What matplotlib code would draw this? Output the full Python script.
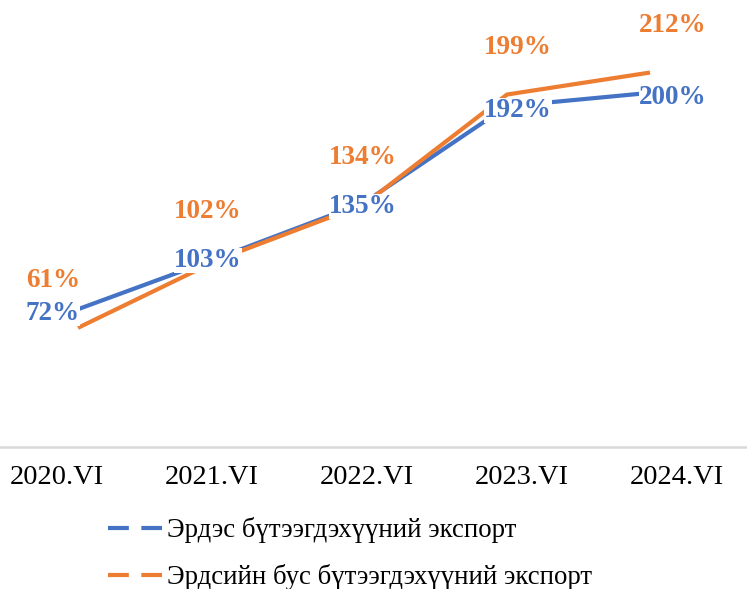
import numpy as np
import matplotlib
matplotlib.use('Agg')
import matplotlib.pyplot as plt

# data
periods = ['2020.VI', '2021.VI', '2022.VI', '2023.VI', '2024.VI']
mineral = [72, 103, 135, 192, 200]
non_mineral = [61, 102, 134, 199, 212]
mineral_name = 'Эрдэс бүтээгдэхүүний экспорт'
non_mineral_name = 'Эрдсийн бус бүтээгдэхүүний экспорт'

blue = '#4472C4'
orange = '#ED7D31'

plt.rcParams['font.family'] = ['Liberation Serif', 'DejaVu Serif']

W, H = 747, 589
fig = plt.figure(figsize=(W / 100, H / 100), dpi=100)
ax = fig.add_axes([0, 1 - 447 / H, 1, (447 - 10) / H])

x = np.arange(len(periods))
ax.plot(x, mineral, color=blue, lw=3, solid_capstyle='butt', zorder=2)
ax.plot(x, non_mineral, color=orange, lw=3, solid_capstyle='butt', zorder=2)

# points sit a bit inside the category labels
ax.set_xlim(-78 / 143, (W - 78) / 143)
ax.set_ylim(-9.5, 249)
tick_pos = np.arange(len(periods)) * 155 / 143 - 21 / 143
ax.set_xticks(tick_pos)
ax.set_xticklabels(periods, fontsize=20.5)
ax.tick_params(axis='x', length=0, pad=13)
ax.set_yticks([])
for s in ['top', 'left', 'right']:
    ax.spines[s].set_visible(False)
ax.spines['bottom'].set_color('#D9D9D9')
ax.spines['bottom'].set_linewidth(1.8)

# data labels (white box hides the line under them, like the original)
for tx, v in zip(tick_pos, mineral):
    ax.annotate(f'{v}%', (tx, v), xytext=(-3, -3), textcoords='offset points',
                ha='center', va='center', fontsize=19.5, fontweight='bold', color=blue,
                bbox=dict(boxstyle='square,pad=0', fc='white', ec='none'), zorder=3)
for tx, v in zip(tick_pos, non_mineral):
    ax.annotate(f'{v}%', (tx, v), xytext=(-3, 34), textcoords='offset points',
                ha='center', va='center', fontsize=19.5, fontweight='bold', color=orange,
                zorder=3)

h1, = ax.plot([], [], color=blue, lw=3, dashes=(5, 3))
h2, = ax.plot([], [], color=orange, lw=3, dashes=(5, 3))
fig.legend([h1, h2], [mineral_name, non_mineral_name], loc='upper left',
           bbox_to_anchor=(108 / W, 1 - 517 / H), frameon=False, fontsize=19.3,
           handlelength=2.0, handletextpad=0.19, labelspacing=0.8,
           borderpad=0, borderaxespad=0)

fig.savefig('out.png', dpi=100)
